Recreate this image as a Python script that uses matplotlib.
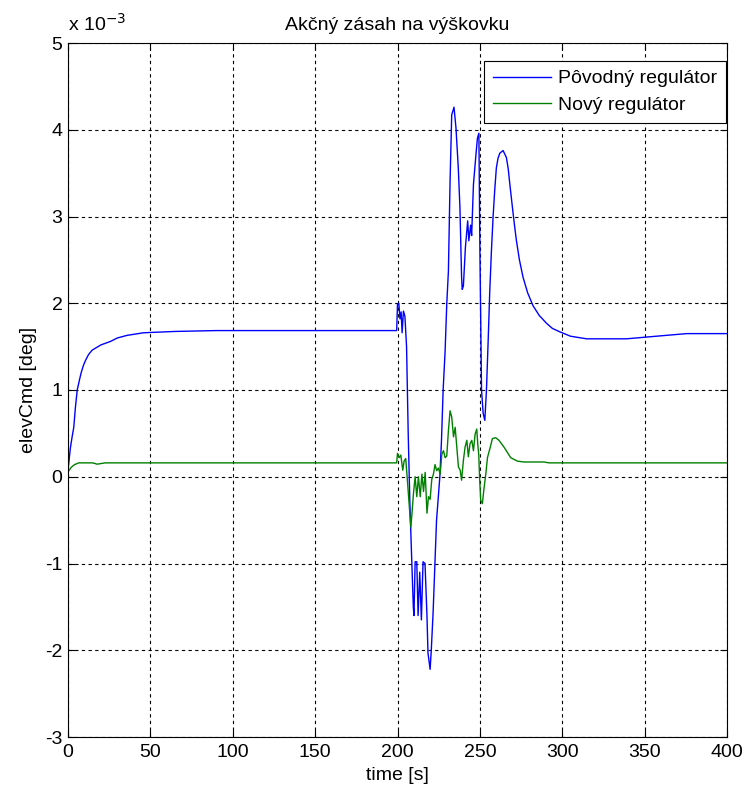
import matplotlib
matplotlib.use("Agg")
import matplotlib.pyplot as plt

plt.rcParams['font.family'] = ['Liberation Sans', 'DejaVu Sans']
plt.rcParams['axes.unicode_minus'] = False

# hodnoty v jednotkach 1e-3 deg
t_povodny = [0, 0.7, 1.5, 2.5, 3.5, 4.5, 5.6, 7, 8, 9.3, 10.6, 12.5, 14.7, 20, 25.8, 30, 35.9, 46, 65, 90, 199.5,
             200, 200.8, 201.5, 202.2, 202.8, 203.6, 204.5, 205.5, 206.5, 207.5, 208.5,
             209.6, 210, 210.7, 211.7, 212.5, 213.5, 214.5, 215.5, 216.7, 217.9, 218.5,
             219.8, 220.5, 221.6, 223.7, 225.7, 226.7, 227.7, 228.9, 229.9, 230.9, 231.9,
             232.9, 234.3, 235.5, 236.9, 237.9, 238.9, 239.3, 240, 241.2, 242.6, 243.3,
             244.4, 245, 246.1, 247.6, 248.5, 249.4, 250, 251, 252, 253, 254, 255, 256, 257, 258,
             259, 260, 261, 262.1, 264.1, 266.1, 267.2, 268.2, 269.2, 270.2, 271.2, 272.2, 274,
             276.2, 279, 282.3, 286, 290.4, 294, 298.6,
             305, 314.8, 339, 351, 375.5, 400]
v_povodny = [0.07, 0.2, 0.34, 0.46, 0.57, 0.8, 1.0, 1.12, 1.2, 1.28, 1.34, 1.41, 1.46, 1.52, 1.56, 1.6, 1.63, 1.66, 1.675, 1.685, 1.685,
             1.99, 2.0, 1.82, 1.9, 1.66, 1.91, 1.85, 1.5, 0.5, -0.3, -0.88,
             -1.5, -1.6, -0.98, -0.98, -1.6, -1.1, -1.65, -0.98, -1.0, -1.61, -2.03,
             -2.22, -2.0, -1.57, -0.5, 0.0, 0.42, 1.0, 1.45, 1.99, 2.37, 3.4,
             4.17, 4.26, 4.02, 3.56, 3.1, 2.3, 2.16, 2.2, 2.64, 2.95, 2.72,
             2.9, 2.78, 3.37, 3.71, 3.9, 3.96, 2.64, 1.0, 0.73, 0.65, 1.0, 1.55, 2.14, 2.6, 2.99,
             3.3, 3.56, 3.67, 3.73, 3.76, 3.68, 3.55, 3.37, 3.2, 3.03, 2.87, 2.72, 2.5,
             2.3, 2.12, 1.97, 1.86, 1.77, 1.71, 1.67,
             1.62, 1.59, 1.59, 1.61, 1.65, 1.65]

t_novy = [0, 2, 4, 6.5, 15, 17.7, 22.6, 199.5, 200, 201, 202, 203.2, 204, 205, 206,
          207.2, 208.1, 208.8, 209.7, 210.7, 211.7, 212.7, 213.8, 214.8, 215.8, 216.8,
          217.9, 218.8, 219.8, 220.8, 221.8, 222.8, 223.8, 224.8, 225.9, 226.9, 227.9,
          228.9, 229.9, 230.9, 231.9, 232.9, 234, 235, 236, 237, 238, 238.9, 240, 241,
          242.1, 243, 244, 245.1, 246.1, 247.1, 248.1, 248.7, 249.3, 249.9, 250.5, 251.5,
          252.6, 253.6, 254.6, 256.3, 257.6, 259.6, 261.6, 264.7, 268.7, 272.8, 276.8,
          288.9, 292, 400]
v_novy = [0.055, 0.11, 0.14, 0.16, 0.16, 0.145, 0.16, 0.16, 0.27, 0.22, 0.25, 0.075, 0.18, 0.21, -0.04,
          -0.35, -0.58, -0.42, -0.19, 0.0, -0.23, 0.0, -0.23, 0.03, -0.17, 0.05,
          -0.42, -0.23, -0.26, -0.03, 0.03, 0.14, 0.07, 0.1, 0.03, 0.26, 0.3,
          0.22, 0.24, 0.53, 0.76, 0.69, 0.46, 0.57, 0.34, 0.11, 0.08, -0.04, 0.19, 0.34,
          0.42, 0.23, 0.38, 0.42, 0.3, 0.49, 0.55, 0.38, 0.26, -0.04, -0.27, -0.31,
          -0.12, 0.03, 0.22, 0.34, 0.44, 0.45, 0.42, 0.34, 0.22, 0.18, 0.17,
          0.17, 0.16, 0.16]

x_ticks = [0, 50, 100, 150, 200, 250, 300, 350, 400]
y_ticks = [-3, -2, -1, 0, 1, 2, 3, 4, 5]

fig = plt.figure(figsize=(7.47, 7.93), dpi=100)
ax = fig.add_axes([68 / 747, 56 / 793, 659 / 747, 694 / 793])

ax.plot(t_povodny, v_povodny, color=(0, 0, 1), lw=1.0, label='Pôvodný regulátor')
ax.plot(t_novy, v_novy, color=(0, 0.5, 0), lw=1.0, label='Nový regulátor')

ax.set_xlim(0, 400)
ax.set_ylim(-3, 5)
ax.set_xticks(x_ticks)
ax.set_yticks(y_ticks)
ax.tick_params(direction='in', top=True, right=True, labelsize=14, length=5)
ax.tick_params(axis='x', pad=5)
ax.tick_params(axis='y', pad=4)
ax.grid(True, color='black', linestyle=(0, (3, 3)), lw=0.8)
for s in ax.spines.values():
    s.set_linewidth(0.8)

ax.set_title('Akčný zásah na výškovku', fontsize=14, pad=9)
ax.set_xlabel('time [s]', fontsize=14, labelpad=4)
ax.set_ylabel('elevCmd [deg]', fontsize=14, labelpad=6)

fig.text(68 / 747, 1 - 24 / 793, 'x 10$^{-3}$', fontsize=14, va='center', ha='left')

leg = ax.legend(loc='upper right', bbox_to_anchor=(0.998, 0.974), fontsize=14,
                fancybox=False, framealpha=1, edgecolor='black', handlelength=3.0,
                handletextpad=0.35, borderaxespad=0.0, borderpad=0.45, labelspacing=0.45)
leg.get_frame().set_linewidth(0.8)

fig.savefig('out.png', dpi=100)
